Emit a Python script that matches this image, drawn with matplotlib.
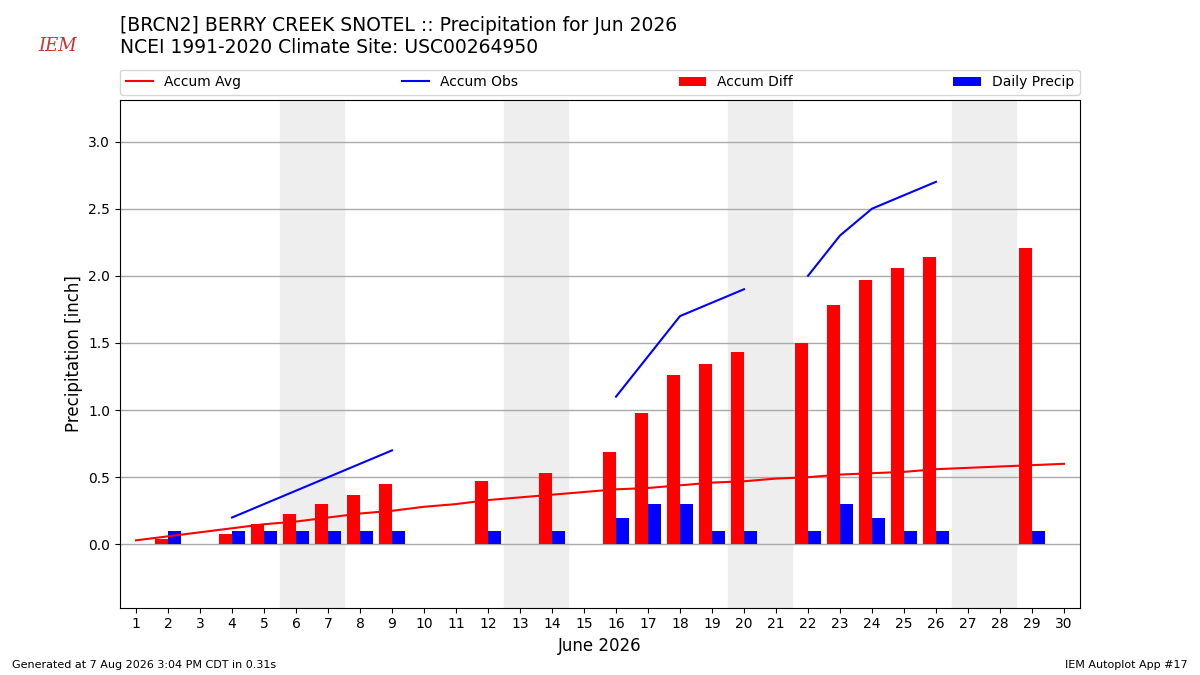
import numpy as np
import matplotlib
matplotlib.use("Agg")
import matplotlib.pyplot as plt

nan = np.nan

days = list(range(1, 31))
# accumulated climatology (inch)
accum_avg = [0.03, 0.06, 0.09, 0.12, 0.15, 0.17, 0.20, 0.23, 0.25, 0.28,
             0.30, 0.33, 0.35, 0.37, 0.39, 0.41, 0.42, 0.44, 0.46, 0.47,
             0.49, 0.50, 0.52, 0.53, 0.54, 0.56, 0.57, 0.58, 0.59, 0.60]
# accumulated observed, missing days as nan
accum_obs = [nan, 0.1, nan, 0.2, 0.3, 0.4, 0.5, 0.6, 0.7, nan,
             nan, 0.8, nan, 0.9, nan, 1.1, 1.4, 1.7, 1.8, 1.9,
             nan, 2.0, 2.3, 2.5, 2.6, 2.7, nan, nan, 2.8, nan]
accum_diff = [nan, 0.04, nan, 0.08, 0.15, 0.23, 0.30, 0.37, 0.45, nan,
              nan, 0.47, nan, 0.53, nan, 0.69, 0.98, 1.26, 1.34, 1.43,
              nan, 1.50, 1.78, 1.97, 2.06, 2.14, nan, nan, 2.21, nan]
daily_precip = [nan, 0.1, nan, 0.1, 0.1, 0.1, 0.1, 0.1, 0.1, nan,
                nan, 0.1, nan, 0.1, nan, 0.2, 0.3, 0.3, 0.1, 0.1,
                nan, 0.1, 0.3, 0.2, 0.1, 0.1, nan, nan, 0.1, nan]
weekends = [(6, 7), (13, 14), (20, 21), (27, 28)]

fig = plt.figure(figsize=(12, 6.75), dpi=100)
ax = fig.add_axes([0.1, 0.1, 0.8, 0.752])

for start, end in weekends:
    ax.axvspan(start - 0.5, end + 0.5, color="#eeeeee", zorder=0)

ax.plot(days, accum_avg, color="r", label="Accum Avg", zorder=3)
ax.plot(days, accum_obs, color="b", label="Accum Obs", zorder=3)
ax.bar(days, accum_diff, width=-0.4, align="edge", color="r", label="Accum Diff", zorder=2)
ax.bar(days, daily_precip, width=0.4, align="edge", color="b", label="Daily Precip", zorder=2)

ax.set_xlim(0.5, 30.5)
ax.set_ylim(-0.47, 3.31)
ax.set_xticks(days)
ax.set_yticks(np.arange(0, 3.01, 0.5))
ax.yaxis.grid(True, color="#aaaaaa", lw=1)
ax.set_axisbelow(True)
ax.set_xlabel("June 2026", fontsize=12)
ax.set_ylabel("Precipitation [inch]", fontsize=12)

ax.legend(loc="lower left", bbox_to_anchor=(0, 1.01, 1, 0.1), mode="expand",
          ncol=4, borderaxespad=0, fontsize=10)

fig.text(0.1, 0.976, "[BRCN2] BERRY CREEK SNOTEL :: Precipitation for Jun 2026\n"
         "NCEI 1991-2020 Climate Site: USC00264950", fontsize=13.5, va="top", ha="left")
# stand-in for the IEM logo
fig.text(0.032, 0.932, "IEM", color="#d03030", fontsize=13, family="DejaVu Serif",
         style="italic", va="center", ha="left")
fig.text(0.01, 0.01, "Generated at 7 Aug 2026 3:04 PM CDT in 0.31s", fontsize=8)
fig.text(0.99, 0.01, "IEM Autoplot App #17", fontsize=8, ha="right")

fig.savefig("out.png")
